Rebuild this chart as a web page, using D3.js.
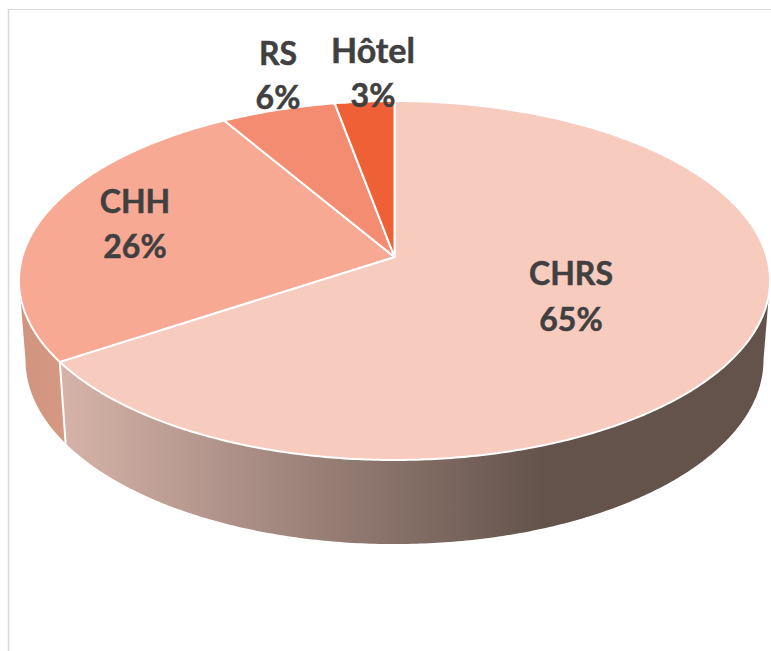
<!DOCTYPE html>
<html>
<head>
<meta charset="utf-8">
<script src="https://cdn.jsdelivr.net/npm/d3@7"></script>
<style>
  html, body { margin: 0; padding: 0; background: #fff; }
  svg { display: block; }
</style>
</head>
<body>
<svg id="chart" width="771" height="651"></svg>
<script>
const categories = ["CHRS", "CHH", "RS", "Hôtel"];
const shares = [65.7, 25.8, 5.6, 2.9];
const percentLabels = ["65%", "26%", "6%", "3%"];
const sliceColors = ["#f8cbbf", "#f7a993", "#f38c70", "#ef6036"];

const svg = d3.select("#chart");

// perspective of the disc: k makes the front bigger than the back
const k = 0.131;
const topFace = { cx: 394.5, cy: 257, a: 372.3, b: 176.4 };
const bottomFace = { cx: 394.5, cy: 336, a: 365.8, b: 180.8 };

function project(face, angle) {
    const u = Math.sin(angle), v = -Math.cos(angle), w = 1 - k * v;
    return [face.cx + face.a * u / w, face.cy + face.b * v / w];
}

function rim(face, a0, a1) {
    const n = Math.max(2, Math.ceil(Math.abs(a1 - a0) / 0.01));
    return d3.range(n + 1).map(i => project(face, a0 + (a1 - a0) * i / n));
}

const line = d3.line();
const pie = d3.pie().sort(null).value(d => d)(shares);

// silhouette limits, where the rim turns away from the viewer
const rightEdge = Math.acos(-k);
const leftEdge = 2 * Math.PI - rightEdge;

// frame
svg.append("line").attr("x1", 8.5).attr("x2", 8.5).attr("y1", 9).attr("y2", 651).attr("stroke", "#d9d9d9").attr("stroke-width", 1.5);
svg.append("line").attr("x1", 8).attr("x2", 771).attr("y1", 9.5).attr("y2", 9.5).attr("stroke", "#d9d9d9").attr("stroke-width", 1.2);

const defs = svg.append("defs");
const grad = defs.append("linearGradient").attr("id", "wallGrad")
    .attr("gradientUnits", "userSpaceOnUse").attr("x1", 62).attr("x2", 545).attr("y1", 0).attr("y2", 0);
grad.append("stop").attr("offset", 0).attr("stop-color", "#d6b3a9");
grad.append("stop").attr("offset", 1).attr("stop-color", "#63534b");
const grad2 = defs.append("linearGradient").attr("id", "wallGrad2")
    .attr("gradientUnits", "userSpaceOnUse").attr("x1", 20).attr("x2", 65).attr("y1", 0).attr("y2", 0);
grad2.append("stop").attr("offset", 0).attr("stop-color", "#d0947f");
grad2.append("stop").attr("offset", 1).attr("stop-color", "#d49883");

// side walls
function wall(a0, a1, fill) {
    const pts = rim(topFace, a0, a1).concat(rim(bottomFace, a1, a0));
    svg.append("path").attr("d", line(pts) + "Z").attr("fill", fill);
}
wall(rightEdge, pie[0].endAngle, "url(#wallGrad)");
wall(pie[0].endAngle, leftEdge, "url(#wallGrad2)");

// seam between the two visible walls
svg.append("path")
    .attr("d", line([project(topFace, pie[0].endAngle), project(bottomFace, pie[0].endAngle)]))
    .attr("stroke", "#fff").attr("stroke-width", 2).attr("fill", "none");

// top slices
svg.selectAll("path.slice").data(pie).enter().append("path")
    .attr("class", "slice")
    .attr("d", d => line([[topFace.cx, topFace.cy]].concat(rim(topFace, d.startAngle, d.endAngle))) + "Z")
    .attr("fill", (d, i) => sliceColors[i])
    .attr("stroke", "#fff").attr("stroke-width", 2).attr("stroke-linejoin", "round");

// labels
const labelPos = [[571, 274, 320], [135, 202, 247], [278, 54, 98], [373, 52, 96]];
const labels = svg.selectAll("g.label").data(categories).enter().append("g").attr("class", "label")
    .attr("font-family", "Lato, 'Open Sans', sans-serif").attr("font-weight", 700)
    .attr("font-size", 32).attr("fill", "#404040").attr("stroke", "#404040").attr("stroke-width", 0.5)
    .attr("text-anchor", "middle");
labels.append("text").attr("x", (d, i) => labelPos[i][0]).attr("y", (d, i) => labelPos[i][1] + 11)
    .attr("font-size", d => d === "Hôtel" ? 34 : null).text(d => d);
labels.append("text").attr("x", (d, i) => labelPos[i][0]).attr("y", (d, i) => labelPos[i][2] + 11).text((d, i) => percentLabels[i]);
</script>
</body>
</html>
